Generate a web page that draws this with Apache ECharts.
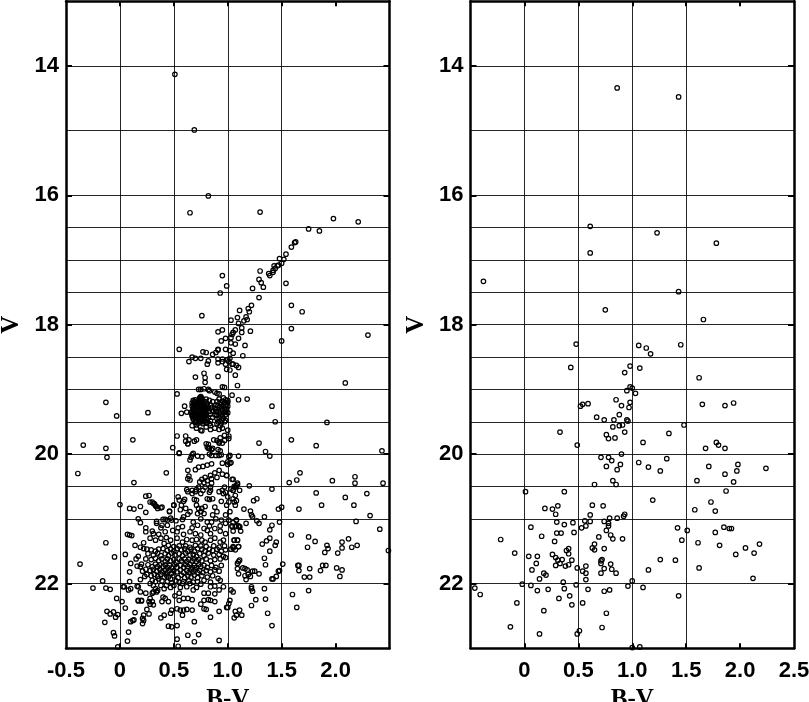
<!DOCTYPE html>
<html>
<head>
<meta charset="utf-8">
<title>B-V V</title>
<script src="https://cdn.jsdelivr.net/npm/echarts@6/dist/echarts.min.js"></script>
<style>
html,body{margin:0;padding:0;background:#fff;}
#chart{width:809px;height:702px;}
</style>
</head>
<body>
<div id="chart"></div>
<script>
// tick labels and grid positions
var leftXLabels = [-0.5, 0, 0.5, 1, 1.5, 2];
var rightXLabels = [0, 0.5, 1, 1.5, 2, 2.5];
var xTicks = [0, 0.5, 1, 1.5, 2];
var yLabels = [14, 16, 18, 20, 22];
var xGrid = [0, 0.5, 1, 1.5];
var yGrid = [14, 15, 16, 16.5, 17, 17.5, 18, 18.5, 19, 19.5, 20, 20.5, 21, 22];

// left panel [B-V, V]
var leftBranch = [[.51,14.13],[.69,14.99],[.82,16.01],[.65,16.27],[1.3,16.26],[1.98,16.36],[2.21,16.41],[1.75,16.52],[1.85,16.55],
[1.63,16.72],[1.62,16.73],[1.59,16.8],[1.54,16.91],[1.48,16.98],[1.52,16.99],[1.5,17.05],[1.47,17.08],[1.46,17.09],[1.43,17.09],[1.44,17.13],[1.42,17.16],[1.42,17.19],[1.38,17.21],[1.39,17.24],
[1.3,17.17],[1.29,17.3],[1.31,17.35],[1.33,17.42],[1.23,17.44],[1.54,17.36],[1.29,17.58],[.95,17.24],[.99,17.4],[.93,17.51],[1.22,17.7],[1.59,17.7],[1.69,17.8],[1.19,17.75],[1.11,17.78],[1.2,17.8],
[1.09,17.89],[1.17,17.88],[.76,17.86],[1.18,17.92],[1.15,17.94],[1.03,17.93],[1.1,17.98],[1.59,18.06],[1.13,18.05],[1.07,18.08],[.95,18.08],[.91,18.11],[1.05,18.12],[1.13,18.12],[1.21,18.1],[2.3,18.16],
[1.04,18.15],[1.03,18.2],[.98,18.21],[1.1,18.21],[.94,18.25],[1.5,18.25],[1.03,18.28],[1.07,18.3],[1.16,18.32],[.55,18.38],[.91,18.38],[.98,18.38],[1.02,18.4]];

var leftGiants = [[.77,18.42],[.8,18.43],[.86,18.46],[.89,18.43],[.91,18.39],[1.05,18.44],[1.14,18.48],[.67,18.5],[.7,18.52],[.75,18.52],[.64,18.57],[.82,18.56],[.81,18.61],[.91,18.53],[.95,18.53],[1,18.54],[1.02,18.52],
[.91,18.59],[.95,18.57],[1.01,18.57],[.98,18.61],[1.04,18.61],[1.05,18.61],[1.08,18.63],[1.1,18.66],[.99,18.69],[1.02,18.7],[1.07,18.78],[.78,18.75],[.79,18.82],[.7,18.81],[.79,18.89],[.91,18.8],[1.09,18.94],
[.73,19],[.75,19],[.78,18.99],[.82,19],[.83,19.02],[.88,19.04],[.9,19.06],[.92,19.07],[.95,18.96],[.97,18.97],[.53,19.07],[1.04,19.09],[1.1,19.16],[1.18,19.15],[.6,19.26],[.57,19.37],[.62,19.35],
[1.41,19.26],[1.44,19.5],[1.92,19.51],[2.09,18.9]];

var leftClump = [[.75,19.11],[.74,19.13],[.76,19.14],[.68,19.17],[.7,19.16],[.72,19.18],[.75,19.17],[.77,19.18],[.8,19.15],[.83,19.17],[.86,19.19],[.67,19.21],[.69,19.22],[.71,19.2],[.73,19.23],[.76,19.21],[.78,19.23],[.81,19.22],[.84,19.24],
[.67,19.26],[.69,19.27],[.71,19.25],[.73,19.28],[.75,19.26],[.77,19.28],[.79,19.27],[.82,19.29],[.85,19.28],[.68,19.31],[.7,19.32],[.72,19.3],[.74,19.33],[.76,19.31],[.78,19.33],[.8,19.32],[.83,19.34],[.86,19.33],
[.66,19.36],[.68,19.37],[.7,19.35],[.72,19.38],[.74,19.36],[.76,19.38],[.78,19.37],[.8,19.39],[.84,19.38],[.67,19.41],[.69,19.42],[.71,19.4],[.73,19.43],[.75,19.41],[.77,19.43],[.79,19.42],[.82,19.44],[.86,19.43],
[.68,19.46],[.7,19.47],[.72,19.45],[.74,19.48],[.76,19.46],[.78,19.48],[.81,19.47],[.84,19.49],[.7,19.51],[.73,19.52],[.75,19.5],[.77,19.53],[.8,19.52],[.83,19.53],
[.92,19.15],[.96,19.13],[.98,19.16],[1,19.17],[.9,19.19],[.93,19.2],[.95,19.18],[.97,19.21],[1,19.2],[.89,19.24],[.91,19.25],[.94,19.23],[.96,19.26],[.98,19.24],[1,19.26],[.88,19.29],[.9,19.3],[.92,19.28],[.95,19.31],[.97,19.29],[.99,19.31],
[.89,19.34],[.91,19.35],[.93,19.33],[.96,19.36],[.98,19.34],[1,19.36],[.88,19.39],[.9,19.4],[.93,19.38],[.95,19.41],[.98,19.39],[.9,19.45],[.92,19.44],[.94,19.47],[.96,19.45],[.98,19.48],[.91,19.5],[.94,19.52],[.97,19.5]];

// the solid black core of the clump
var leftCore = [[.69,19.19],[.74,19.2],[.79,19.19],[.68,19.24],[.72,19.25],[.74,19.26],[.77,19.25],[.8,19.25],[.7,19.29],[.74,19.3],[.76,19.29],[.78,19.3],[.8,19.3],[.67,19.34],[.71,19.33],[.73,19.35],[.75,19.34],[.77,19.35],[.79,19.34],
[.67,19.39],[.7,19.38],[.73,19.39],[.75,19.39],[.77,19.4],[.79,19.4],[.68,19.44],[.71,19.44],[.74,19.45],[.76,19.43],[.78,19.45],[.8,19.44],[.71,19.49],[.74,19.5],[.77,19.5],[.79,19.49],[.75,19.12],[.74,19.15]];

var leftMiddle = [[.49,19.9],[.53,19.72],[.61,19.72],[.64,19.78],[.63,19.84],[.71,19.78],[.8,19.84],[.81,19.89],[.83,19.91],[.86,19.91],[.87,19.78],[.9,19.79],[.93,19.75],[.97,19.71],[1.01,19.72],[1,19.63],[.97,19.79],[.92,19.83],[1.01,19.76],[.91,19.93],[.55,19.98],
[.75,19.63],[.71,19.6],[.76,19.64],[.84,19.62],[.88,19.6],[.92,19.62],[.67,19.56],[.71,19.55],[.8,19.58],[.84,19.56],[.9,19.53],[.93,19.56],[.95,19.6],
[.55,19.99],[.63,19.84],[.61,19.8],[.69,19.8],[.82,19.85],[.82,19.91],[.85,19.93],[.92,19.81],[.95,19.83],[.93,19.95],[.68,19.99],[.67,20.01],[.66,20.05],[.65,20.09],[.72,20.03],[.76,20.04],[.83,20],[.85,20.02],[.89,20.02],[.92,20.02],[.94,20.01],[.95,20.14],[1.02,20.14],[1,20.12],
[.63,20.25],[.64,20.34],[.63,20.38],[.65,20.4],[.7,20.24],[.73,20.2],[.77,20.19],[.81,20.17],[.85,20.15],[.92,20.25],[.88,20.29],[.84,20.33],[.79,20.36],[.76,20.39],[.74,20.43],[.78,20.44],[.81,20.41],[.85,20.38],[.9,20.36],[.95,20.31],[.99,20.33],[1.04,20.39],[1.09,20.45],[1.07,20.51],[1.03,20.54],[1.05,20.56],[1.11,20.56],[.97,20.51],[.95,20.56],[.92,20.58],
[.85,20.45],[.84,20.51],[.84,20.56],[.83,20.59],[.79,20.51],[.77,20.56],[.75,20.61],[.73,20.51],[.71,20.55],[.67,20.56],[.62,20.55],[.63,20.58],[.67,20.61],[.7,20.58],[.54,20.66],[.6,20.7],[.59,20.73],[.55,20.71],[.69,20.7],[.71,20.71],[.81,20.69],[.83,20.7],[.86,20.69],[.94,20.73],[.96,20.61],[.98,20.59],[1,20.66],[1.05,20.69],[1.06,20.74],[1.07,20.79],[.99,20.79],[1.01,20.74],
[.28,20.74],[.31,20.76],[.33,20.8],[.35,20.84],[.38,20.83],[.5,20.79],[.46,20.89],[.57,20.79],[.56,20.86],[.61,20.84],[.65,20.89],[.71,20.79],[.73,20.84],[.76,20.84],[.79,20.81],[.75,20.89],[.72,20.92],[.78,20.92],[.88,20.82],[.9,20.89],[.86,20.94],[.98,20.94],[1.02,20.89],
[.4,21.01],[.42,21.01],[.44,21.02],[.48,21.02],[.52,21.03],[.59,20.97],[.58,21.01],[.63,20.93],[.68,21.05],[.75,21],[.81,21.05],[.85,21.05],[.89,21],[.94,21.02],[1.01,21.02],[1.08,21.02],[.34,21.07],[.39,21.1],[.44,21.1],[.38,21.14],[.54,21.14],[.58,21.12],[.67,21.14],[.72,21.1],[.78,21.15],[.83,21.11],[.88,21.15],[.93,21.11],[.98,21.07],[1.04,21.11],[1.08,21.11],[1.11,21.12],[1.12,21.19],[1.05,21.19],
[.3,21.19],[.31,21.23],[.36,21.24],[.42,21.2],[.49,21.18],[.53,21.2],[.59,21.24],[.65,21.2],[.75,21.25],[.7,21.23],[.81,21.18],[.84,21.23],[.93,21.19],[.98,21.23],[1.06,21.33],[1.09,21.33],[1.05,21.43],[1.1,21.43],
[.28,21.3],[.33,21.33],[.38,21.3],[.43,21.29],[.47,21.33],[.53,21.3],[.58,21.36],[.62,21.32],[.67,21.33],[.71,21.32],[.76,21.33],[.79,21.36],[.84,21.33],[.88,21.3],[.93,21.36],[.96,21.33],[.41,21.38],[.45,21.41],[.5,21.43],[.55,21.42],[.61,21.42],[.65,21.44],[.7,21.41],[.75,21.42],[.8,21.43],[.87,21.42],[.92,21.44],[.97,21.42]];

var leftLower = [[.22,21.46],[.29,21.48],[.33,21.5],[.36,21.47],[.4,21.46],[.44,21.49],[.47,21.47],[.5,21.5],[.53,21.46],[.57,21.48],[.6,21.46],[.63,21.5],[.66,21.47],[.69,21.5],[.72,21.46],[.76,21.47],[.79,21.5],[.83,21.47],[.86,21.49],[.9,21.47],[.94,21.5],[.98,21.48],
[.26,21.54],[.31,21.56],[.35,21.53],[.38,21.57],[.42,21.54],[.45,21.57],[.48,21.53],[.51,21.56],[.55,21.54],[.58,21.57],[.61,21.53],[.65,21.56],[.68,21.55],[.71,21.58],[.74,21.54],[.78,21.57],[.82,21.53],[.87,21.56],[.92,21.55],[.96,21.58],
[.24,21.62],[.29,21.63],[.33,21.61],[.36,21.65],[.39,21.62],[.42,21.66],[.44,21.62],[.47,21.65],[.5,21.63],[.52,21.67],[.55,21.62],[.57,21.65],[.6,21.62],[.62,21.66],[.64,21.63],[.67,21.65],[.69,21.62],[.71,21.66],[.73,21.63],[.76,21.65],[.8,21.62],[.84,21.65],[.88,21.63],[.93,21.62],[.98,21.6],
[.2,21.7],[.26,21.71],[.3,21.74],[.33,21.7],[.35,21.74],[.37,21.71],[.4,21.74],[.42,21.71],[.44,21.75],[.46,21.72],[.48,21.76],[.51,21.71],[.53,21.75],[.56,21.72],[.59,21.75],[.61,21.71],[.63,21.74],[.65,21.71],[.67,21.75],[.69,21.72],[.71,21.75],[.73,21.71],[.75,21.74],[.78,21.72],[.81,21.75],[.85,21.72],[.89,21.75],[.94,21.72],
[.24,21.78],[.28,21.8],[.31,21.78],[.34,21.81],[.37,21.78],[.39,21.82],[.42,21.79],[.44,21.83],[.46,21.8],[.48,21.84],[.5,21.8],[.53,21.82],[.56,21.79],[.59,21.83],[.62,21.8],[.64,21.83],[.66,21.79],[.68,21.82],[.7,21.79],[.72,21.83],[.74,21.8],[.77,21.83],[.8,21.8],[.84,21.82],[.88,21.79],[.92,21.81],
[.25,21.86],[.29,21.88],[.32,21.86],[.35,21.89],[.38,21.86],[.41,21.9],[.43,21.87],[.45,21.9],[.47,21.93],[.5,21.88],[.54,21.91],[.57,21.87],[.6,21.91],[.63,21.88],[.66,21.9],[.69,21.87],[.72,21.91],[.76,21.88],[.81,21.9],[.86,21.88],[.91,21.92],[.93,21.95],
[.3,21.95],[.33,21.97],[.36,21.93],[.39,21.96],[.44,21.97],[.48,21.99],[.52,21.96],[.55,21.98],[.59,21.97],[.64,21.96],[.68,21.98],[.72,21.97],[.78,21.95],[.84,21.98],[.28,22],
[.04,22.05],[.09,21.97],[.1,22.08],[.17,22.05],[.19,22.13],[.24,22.15],[.17,22.27],[.2,22.27],[.14,22.45],[.25,22.4],[.27,22.47],[.22,22.49],[.21,22.54],[.22,22.57],[.21,22.62],[.1,22.59],[.12,22.57],[.13,22.56],
[.28,22.23],[.3,22.28],[.27,22.28],[.31,22.33],[.28,22.32],[.4,22.21],[.39,22.28],[.42,22.23],[.45,22.28],[.41,22.49],[.38,22.53],[.47,22.46],[.48,22.41],[.53,22.39],[.56,22.41],[.59,22.41],[.62,22.4],[.58,22.49],[.67,22.41],[.75,22.32],[.78,22.39],[.8,22.4],[.84,22.52],[.92,22.43],[.99,22.37],[.82,22.25],[.84,22.26],[.78,22.26],[.88,22.28],
[.41,22.08],[.31,22.03],[.33,22.08],[.31,22.13],[.3,22.15],[.34,22.13],[.35,22.11],[.38,22.03],[.43,22.03],[.47,22.06],[.51,22.19],[.55,22.15],[.55,22.26],[.59,22.23],[.63,22.23],[.67,22.25],[.68,22.1],[.62,22.05],[.71,22.06],[.78,22.15],[.82,22.15],[.88,22.16],[.92,22.1],[.88,22.04],[.84,22.05],[.96,22.05],[.5,22.03],[.56,22.06],[.58,22],[.65,22],[.75,22.01],
[.45,22.66],[.48,22.67],[.53,22.65],[.53,22.86],[.54,22.97],[.63,22.8],[.73,22.79],[.69,22.9],[.92,22.88],[.69,22.59]];

var leftBlueSide = [[-.13,19.2],[-.03,19.41],[.26,19.36],[.12,19.78],[-.34,19.86],[-.13,19.91],[-.12,20.05],[-.39,20.3],[.43,20.29],[.13,20.44],
[.09,21.25],[.11,21.26],[.07,21.24],[.14,21.41],[.05,21.55],[.09,21.82],[.1,21.69],[.19,21.44],[.22,21.37],[.24,21.14],[.24,21.2],[.25,21.47],[.17,21.58],[.15,21.62],[.16,21.73],[.19,21.74],[.21,21.81],[.23,21.89],[.19,21.94],[.16,22.04],[.17,22.26],[.2,22.26],[.08,22.1],[.34,21.04],[.17,21],[.19,21.06],
[.09,20.84],[.13,20.85],[.19,20.81],[.24,20.9],[0,20.78],[.24,20.65],[.27,20.64],[.3,20.74],[.32,20.77],[.34,20.81],[.39,20.82],[.46,20.88],[.5,20.79],[.47,20.99],
[-.37,21.7],[-.13,21.37],[-.05,21.59],[-.16,21.96],[-.25,22.07],[-.13,22.07],[-.09,22.09],[.03,22.05],[-.03,22.23],[.02,22.28],[.05,22.38],[-.12,22.43],[-.09,22.47],[-.06,22.44],[-.04,22.52],[-.02,22.48],[-.14,22.6],[-.06,22.76],[-.05,22.81],[.08,22.75],[.07,22.89],[-.02,22.98]];

var leftRedSide = [[1.29,19.83],[1.59,19.78],[1.82,19.87],[1.35,19.96],[1.39,20.03],[2.43,19.95],[1.1,20.03],[1.67,20.29],[1.64,20.4],[1.57,20.44],[1.97,20.41],[2.18,20.35],[2.18,20.45],[2.44,20.45],[1.2,20.49],[1.41,20.54],[1.82,20.6],[2.09,20.67],[2.29,20.61],[1.87,20.79],[2.17,20.79],[1.66,20.85],[2.32,20.95],[2.19,21.04],[2.41,21.16],[2.49,21.49],
[1.59,21.25],[1.75,21.28],[1.81,21.35],[1.74,21.44],[1.92,21.41],[1.93,21.46],[1.9,21.52],[2.02,21.53],[2.06,21.45],[2.06,21.36],[2.12,21.31],[2.15,21.44],[2.2,21.41],[1.51,21.7],[1.65,21.72],[1.66,21.72],[1.66,21.8],[1.76,21.77],[1.88,21.72],[1.91,21.72],[1.86,21.8],[2.01,21.76],[2.06,21.79],[2.04,21.89],[1.71,21.9],[1.76,21.9],[1.75,22.11],[1.6,22.17],[1.64,22.37],[1.37,22.46],[1.41,22.65],
[1.06,22.53],[1.07,22.43],[1.11,22.41],[1.08,22.49],[1.13,22.49],[1,22.37],[1.01,22.31],[1.02,22.26],[1.03,22.1],[1.05,22.13],[1.22,22.34],[1.26,22.25],[1.22,22.08],[1.22,22.05],[1.23,22.12],[1.34,22.08],[1.35,22.24],
[1.05,20.39],[1.09,20.47],[1.08,20.49],[1.06,20.5],[.99,20.33],[1.03,20.13],[1,20.16],[1.01,20.04],[1.02,20.02],[1.05,20.56],[1.07,20.64],[1.08,20.72],[1.15,20.85],[1.21,20.88],[1.22,20.94],[1.23,20.97],[1.24,20.72],[1.27,20.69],[1.34,20.97],[1.27,21.03],[1.29,21.07],[1.17,21.07],[1.41,21.1],[1.48,21.05],[1.47,20.85],[1.5,20.82],[1.39,21.17],[1.36,21.34],[1.32,21.39],[1.39,21.3],[1.45,21.36],[1.44,21.41],[1.39,21.5],[1.34,21.61],[1.35,21.71],[1.48,21.8],[1.47,21.81],[1.45,21.89],[1.42,21.93],[1.41,21.93],[1.29,21.85],[1.25,21.81],[1.23,21.81],[1.19,21.86],[1.21,21.89],[1.16,21.88],[1.17,21.94],[1.1,21.85],[1.09,21.77],[1.14,21.76],[1.16,21.77],[1.18,21.79],[1.09,21.69],[1.1,21.66],[1.11,21.64],[1.07,21.48],[1.1,21.43],[1.03,21.47],[1.05,21.45],[1.06,21.33],[1.09,21.33],[1.1,21.11],[1.11,21.13],[1.07,21.12],[1.04,21.12],[1.08,21.02],[1.05,21.06]];

// right panel [B-V, V]
var rightUpper = [[.86,14.34],[1.43,14.48],[.61,16.48],[1.23,16.58],[1.78,16.74],[.61,16.89],[-.38,17.33],[1.43,17.49],[.75,17.77],[1.66,17.92],[.48,18.3],[1.06,18.32],[1.13,18.36],[1.45,18.31],[1.17,18.45],[.43,18.66],[.98,18.64],[1.07,18.67],[.93,18.74],[1.62,18.82],
[.98,18.96],[1,18.98],[.95,19.02],[1.03,19.06],[.85,19.16],[.98,19.2],[.54,19.23],[.59,19.22],[.52,19.26],[.9,19.25],[.97,19.28],[1.65,19.23],[1.86,19.25],[1.94,19.21],[.88,19.39],[.67,19.43],[.74,19.47],[.83,19.47],[.95,19.47],[.96,19.49],[.88,19.56],[.91,19.55],[.82,19.58],[1.48,19.55],
[.33,19.66],[.93,19.66],[1.34,19.68],[.76,19.7],[.78,19.76],[.84,19.75],[1.1,19.82],[1.78,19.82],[1.8,19.86],[1.68,19.91],[1.86,19.91],[.49,19.86]];

var rightMiddle = [[.9,20],[.71,20.05],[.78,20.05],[.81,20.1],[1.32,20.07],[1.06,20.13],[.89,20.16],[.76,20.19],[1.15,20.2],[.86,20.24],[1.26,20.26],[1.71,20.19],[1.98,20.16],[1.97,20.26],[2.24,20.22],[1.86,20.31],[1.6,20.41],[.82,20.41],[.85,20.47],[.65,20.47],[1.94,20.43],[.01,20.58],[.37,20.58],[1.87,20.57],[1.19,20.71],[1.73,20.74],[.63,20.79],[.73,20.8],[.31,20.8],[.26,20.85],[.19,20.84],[1.58,20.86],[1.77,20.88],[.29,20.93],[.61,20.94],[.93,20.93],[.92,20.96],[.86,20.99],[.79,20.99],
[.56,21.03],[.61,21.04],[.74,21.04],[.3,21.05],[.45,21.06],[.37,21.09],[.78,21.07],[.78,21.11],[.57,21.11],[.06,21.13],[.53,21.14],[.76,21.18],[1.42,21.14],[1.51,21.18],[1.85,21.13],[1.9,21.15],[1.92,21.15],[.3,21.22],[.34,21.22],[.46,21.21],[1.77,21.21],[.8,21.25],[.69,21.28],[.16,21.27],[.82,21.31],[.91,21.31],[-.22,21.32],[.28,21.35],[1.46,21.33],[1.61,21.37],[2.18,21.39],[1.81,21.41],[.65,21.39]];

var rightLower = [[.63,21.45],[.65,21.48],[.74,21.46],[.41,21.46],[.39,21.49],[2.05,21.45],[2.13,21.53],[1.96,21.55],[-.09,21.53],[.26,21.55],[.41,21.54],[.04,21.58],[.12,21.58],[.29,21.6],[.31,21.64],[.35,21.63],[.44,21.64],[.33,21.69],[.29,21.72],[.38,21.73],[.41,21.71],[.11,21.69],[.72,21.63],[.71,21.65],[.71,21.69],[.8,21.7],[1.26,21.63],[1.4,21.64],
[.57,21.73],[.49,21.76],[.74,21.77],[.81,21.78],[1.62,21.76],[.07,21.79],[1.15,21.79],[.54,21.81],[.57,21.84],[.71,21.84],[.85,21.84],[.18,21.84],[.2,21.87],[.14,21.93],[.57,21.94],[2.12,21.92],[1,21.96],[.36,21.98],[.48,22.02],[-.02,22.01],[.06,22.03],[-.46,22.07],[.96,22.04],[1.1,22.06],[.12,22.11],[.22,22.09],[.37,22.08],[.59,22.09],[.74,22.12],[.79,22.1],
[-.41,22.17],[1.43,22.19],[.42,22.19],[.32,22.23],[-.07,22.3],[.44,22.33],[.54,22.3],[.18,22.42],[.76,22.46],[-.13,22.67],[.72,22.68],[.51,22.73],[.49,22.78],[.14,22.78],[1.07,22.98],[1,22.99]];

var leftStars = leftBranch.concat(leftGiants, leftClump, leftCore, leftMiddle, leftLower, leftBlueSide, leftRedSide);
var rightStars = rightUpper.concat(rightMiddle, rightLower);

function gridMarkLine() {
    var lines = [];
    xGrid.forEach(function (v) { lines.push({xAxis: v}); });
    yGrid.forEach(function (v) { lines.push({yAxis: v}); });
    return {
        silent: true,
        animation: false,
        symbol: 'none',
        label: {show: false},
        lineStyle: {color: '#000', width: 1, type: 'solid', opacity: 0.85},
        data: lines
    };
}

var tickFont = {
    show: true,
    inside: false,
    fontFamily: 'Liberation Sans',
    fontWeight: 'bold',
    fontSize: 22,
    color: '#000'
};
var frameLine = {show: true, onZero: false, lineStyle: {color: '#000', width: 2.5}};

function xAxisFor(gridIndex, labels, isBottom) {
    return {
        type: 'value',
        gridIndex: gridIndex,
        position: isBottom ? 'bottom' : 'top',
        min: -0.5,
        max: 2.5,
        interval: 0.5,
        name: isBottom ? 'B-V' : '',
        nameLocation: 'middle',
        nameGap: 36,
        nameTextStyle: {fontFamily: 'Liberation Serif', fontWeight: 'bold', fontSize: 25, color: '#000'},
        splitLine: {show: false},
        axisLine: frameLine,
        axisTick: {show: true, inside: true, length: 5, lineStyle: {color: '#000', width: 2}, customValues: xTicks},
        axisLabel: isBottom ? Object.assign({
            margin: 12,
            customValues: labels,
            formatter: function (v) { return v === 0 ? '0' : v.toFixed(1); }
        }, tickFont) : {show: false}
    };
}

function yAxisFor(gridIndex, isLeft, gap) {
    return {
        type: 'value',
        gridIndex: gridIndex,
        position: isLeft ? 'left' : 'right',
        inverse: true,
        min: 13,
        max: 23,
        interval: 1,
        name: isLeft ? 'V' : '',
        nameLocation: 'middle',
        nameRotate: 90,
        nameGap: gap,
        nameTextStyle: {fontFamily: 'Liberation Serif', fontWeight: 'bold', fontSize: 25, color: '#000'},
        splitLine: {show: false},
        axisLine: frameLine,
        axisTick: {show: true, inside: true, length: 6, lineStyle: {color: '#000', width: 2}, customValues: yLabels},
        axisLabel: isLeft ? Object.assign({margin: 7, customValues: yLabels}, tickFont) : {show: false}
    };
}

function starSeries(name, stars, index) {
    return {
        name: name,
        type: 'scatter',
        xAxisIndex: index,
        yAxisIndex: index,
        symbol: 'circle',
        symbolSize: 4.5,
        animation: false,
        itemStyle: {color: 'rgba(0,0,0,0)', borderColor: '#000', borderWidth: 1.2, opacity: 1},
        markLine: gridMarkLine(),
        data: stars
    };
}

var chart = echarts.init(document.getElementById('chart'), null, {renderer: 'canvas'});
chart.setOption({
    backgroundColor: '#fff',
    animation: false,
    grid: [
        {left: 66, top: 1.2, width: 323.5, height: 647, outerBoundsMode: 'none'},
        {left: 470.5, top: 1.2, width: 323.5, height: 647, outerBoundsMode: 'none'}
    ],
    xAxis: [
        xAxisFor(0, leftXLabels, true),
        xAxisFor(1, rightXLabels, true),
        xAxisFor(0, leftXLabels, false),
        xAxisFor(1, rightXLabels, false)
    ],
    yAxis: [
        yAxisFor(0, true, 42),
        yAxisFor(1, true, 41),
        yAxisFor(0, false, 0),
        yAxisFor(1, false, 0)
    ],
    series: [
        starSeries('left', leftStars, 0),
        starSeries('right', rightStars, 1)
    ]
});
</script>
</body>
</html>
